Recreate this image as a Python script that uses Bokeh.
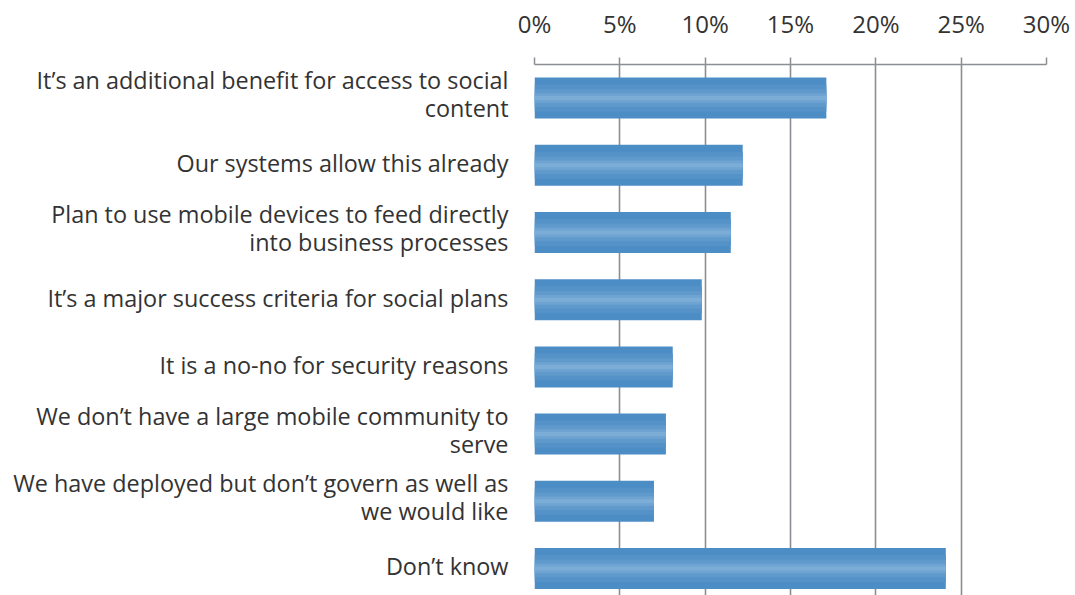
from bokeh.plotting import figure
from bokeh.models import Range1d, FixedTicker, PrintfTickFormatter
from bokeh.embed import file_html
from bokeh.resources import INLINE

categories = [
    "It\u2019s an additional benefit for access to social\ncontent",
    "Our systems allow this already",
    "Plan to use mobile devices to feed directly\ninto business processes",
    "It\u2019s a major success criteria for social plans",
    "It is a no-no for security reasons",
    "We don\u2019t have a large mobile community to\nserve",
    "We have deployed but don\u2019t govern as well as\nwe would like",
    "Don\u2019t know",
]
values = [17.1, 12.2, 11.5, 9.8, 8.1, 7.7, 7.0, 24.1]
x_ticks = [0, 5, 10, 15, 20, 25, 30]

pos = list(range(len(categories)))

FONT = "Open Sans"
TXT = "#333333"
GRID = "#8a8e93"

p = figure(width=1075, height=595, output_backend="svg", toolbar_location=None,
           x_range=Range1d(0, 30), y_range=Range1d(7.402, -0.5),
           x_axis_location="above", min_border_left=534, min_border_top=64,
           min_border_right=29, min_border_bottom=0)
p.outline_line_color = None
p.background_fill_color = "white"
p.border_fill_color = "white"

# gradient-like bars
layers = [(0.61, "#4d8dc6"), (0.40, "#5592c8"), (0.26, "#609acd"), (0.14, "#6ea3d2"), (0.06, "#7badd7")]
for h, c in layers:
    p.hbar(y=pos, right=values, left=0, height=h, fill_color=c, line_color=None)

xa = p.xaxis[0]
xa.ticker = FixedTicker(ticks=x_ticks)
xa.formatter = PrintfTickFormatter(format="%d%%")
xa.axis_line_color = GRID
xa.axis_line_width = 1.5
xa.major_tick_line_color = GRID
xa.major_tick_line_width = 1.5
xa.major_tick_out = 7
xa.major_tick_in = 0
xa.minor_tick_line_color = None
xa.major_label_text_font = FONT
xa.major_label_text_font_size = "24px"
xa.major_label_text_color = TXT
xa.major_label_standoff = 18

# label anchor positions (slightly above bar centres, as in the original)
label_pos = [i - (0.065 if "\n" in c else 0.03) for i, c in enumerate(categories)]

ya = p.yaxis[0]
ya.ticker = FixedTicker(ticks=label_pos)
ya.major_label_overrides = {lp: c for lp, c in zip(label_pos, categories)}
ya.axis_line_color = None
ya.major_tick_line_color = None
ya.minor_tick_line_color = None
ya.major_label_text_font = FONT
ya.major_label_text_font_size = "23.4px"
ya.major_label_text_color = TXT
ya.major_label_standoff = 20
ya.major_label_text_line_height = 0.88

p.xgrid.ticker = FixedTicker(ticks=x_ticks)
p.xgrid.grid_line_color = GRID
p.xgrid.grid_line_width = 1.6
p.ygrid.grid_line_color = None
p.xgrid.level = "underlay"

open("out.html", "w").write(file_html(p, INLINE))
